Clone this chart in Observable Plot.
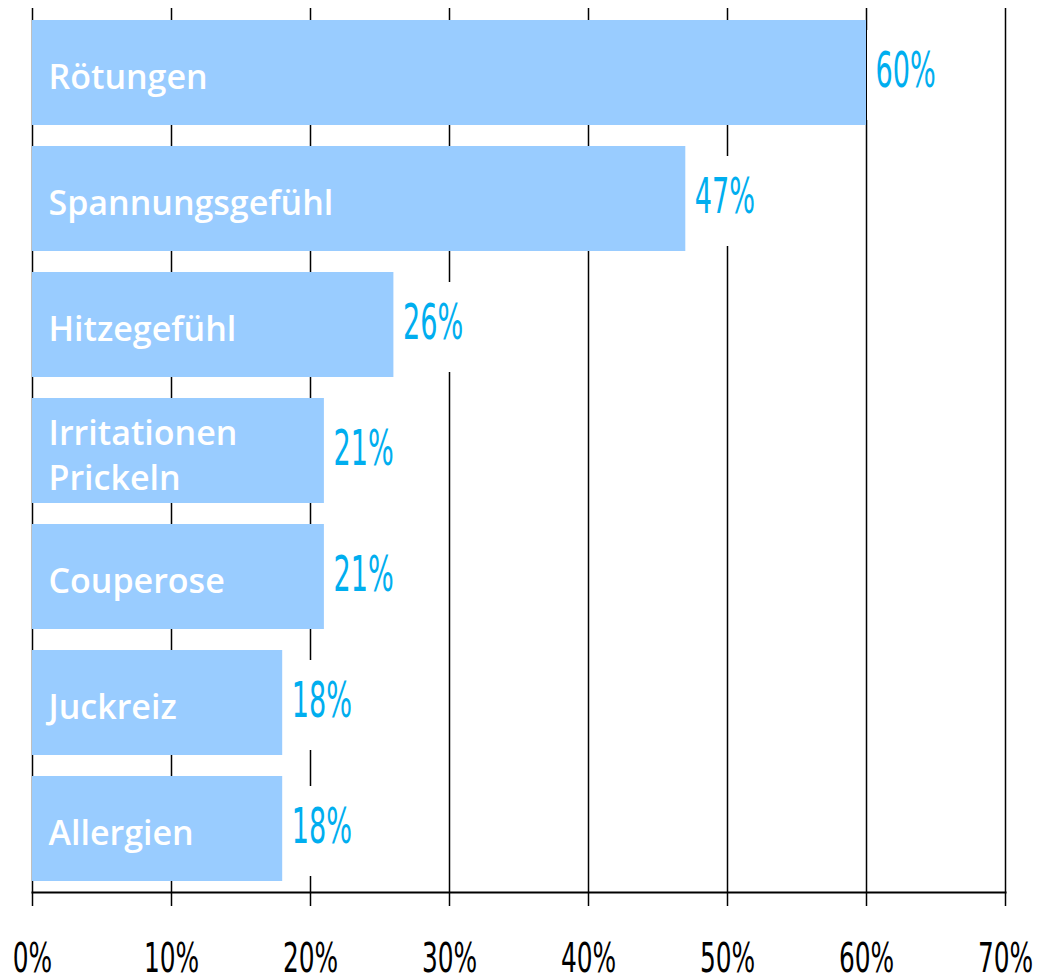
<!DOCTYPE html>
<html><head><meta charset="utf-8">
<script src="https://cdn.jsdelivr.net/npm/d3@7"></script>
<script src="https://cdn.jsdelivr.net/npm/@observablehq/plot@0.6"></script>
<style>body{margin:0;background:#fff}</style>
</head><body><div id="chart"></div>
<script>
const categories = ["Rötungen","Spannungsgefühl","Hitzegefühl","Irritationen\nPrickeln","Couperose","Juckreiz","Allergien"];
const values = [60,47,26,21,21,18,18];
const xTicks = [0,10,20,30,40,50,60,70];
const tickLabels = ["0%","10%","20%","30%","40%","50%","60%","70%"];

const data = categories.map((c,i)=>({category:c, value:values[i], label: values[i]+"%"}));
const condensed = "'Liberation Sans Narrow','DejaVu Sans Condensed','Liberation Sans',sans-serif";

const chart = Plot.plot({
  width:1039, height:980, marginLeft:32, marginRight:34, marginTop:8, marginBottom:88,
  x:{domain:[0,70], axis:null, label:null},
  y:{domain:categories, axis:null, paddingInner:0.167, paddingOuter:0.087},
  marks:[
    Plot.ruleX(xTicks,{stroke:"#000", strokeWidth:1.5}),
    Plot.barX(data,{x:"value", y:"category", fill:"#99CCFF"}),
    Plot.barX(data,{x1:"value", x2:d=>d.value+5.5, y:"category", fill:"#fff", insetLeft:1, insetTop:10, insetBottom:5}),
    Plot.text(data,{x:"value", y:"category", text:"label", textAnchor:"start", dx:9, dy:-2, fill:"#00AEEF", fontSize:49, fontFamily:condensed, className:"vlabel"}),
    Plot.text(data,{x:0, y:"category", text:"category", textAnchor:"start", dx:16, dy:2, fill:"#fff", fontSize:34, fontWeight:600, fontFamily:"'Open Sans',sans-serif", lineHeight:1.32}),
    Plot.frame({anchor:"bottom", stroke:"#000", strokeWidth:2}),
    Plot.axisX(xTicks,{label:null, tickSize:14, tickPadding:37, tickFormat:d=>tickLabels[xTicks.indexOf(d)], fontSize:40, fontFamily:condensed, strokeWidth:1.5, fill:"#000"})
  ]
});
document.getElementById("chart").appendChild(chart);

function squeeze(sel, k){
  chart.querySelectorAll(sel).forEach(t=>{
    const w = t.getComputedTextLength();
    t.setAttribute("textLength", (w*k).toFixed(1));
    t.setAttribute("lengthAdjust","spacingAndGlyphs");
  });
}
squeeze(".vlabel text", 0.615);
squeeze("g[aria-label='x-axis tick label'] text", 0.69);
</script>
</body></html>
